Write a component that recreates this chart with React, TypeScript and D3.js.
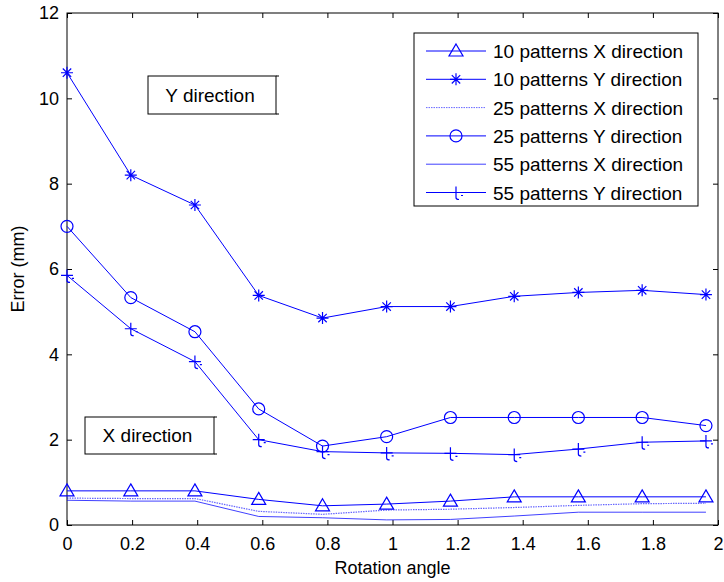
import React, { useEffect, useRef } from 'react'
import * as d3 from 'd3'

// rotation angles (rad), k * pi/16
const angles = [0, 0.196, 0.393, 0.589, 0.785, 0.982, 1.178, 1.374, 1.571, 1.767, 1.963]

const tenX = [0.8, 0.8, 0.8, 0.6, 0.45, 0.49, 0.56, 0.66, 0.66, 0.66, 0.66]
const tenY = [10.6, 8.2, 7.5, 5.38, 4.85, 5.12, 5.12, 5.36, 5.45, 5.5, 5.4]
const twentyFiveX = [0.63, 0.62, 0.62, 0.32, 0.25, 0.35, 0.37, 0.41, 0.46, 0.5, 0.51]
const twentyFiveY = [7.0, 5.33, 4.53, 2.72, 1.85, 2.07, 2.52, 2.52, 2.52, 2.52, 2.33]
const fiftyFiveX = [0.58, 0.56, 0.56, 0.2, 0.17, 0.12, 0.13, 0.21, 0.3, 0.3, 0.3]
const fiftyFiveY = [5.85, 4.6, 3.83, 2.0, 1.72, 1.69, 1.68, 1.65, 1.78, 1.94, 1.97]

const seriesNames = [
  '10 patterns X direction',
  '10 patterns Y direction',
  '25 patterns X direction',
  '25 patterns Y direction',
  '55 patterns X direction',
  '55 patterns Y direction',
]
const seriesValues = [tenX, tenY, twentyFiveX, twentyFiveY, fiftyFiveX, fiftyFiveY]
const seriesMarkers = ['triangle', 'asterisk', 'none', 'circle', 'none', 'plus']

const xTicks = [0, 0.2, 0.4, 0.6, 0.8, 1, 1.2, 1.4, 1.6, 1.8, 2]
const yTicks = [0, 2, 4, 6, 8, 10, 12]

const BLUE = '#0000ff'
const FONT = '"Liberation Sans", Arial, Helvetica, sans-serif'

const drawMarker = (g: any, kind: string, x: number, y: number) => {
  if (kind === 'triangle') {
    g.append('path')
      .attr('d', `M${x},${y - 7}L${x + 7},${y + 5}L${x - 7},${y + 5}Z`)
      .attr('fill', 'none').attr('stroke', BLUE).attr('stroke-width', 1.2)
  } else if (kind === 'circle') {
    g.append('circle').attr('cx', x).attr('cy', y).attr('r', 6)
      .attr('fill', 'none').attr('stroke', BLUE).attr('stroke-width', 1.2)
  } else if (kind === 'asterisk') {
    const r = 6
    const d = r * 0.7
    g.append('path')
      .attr('d', `M${x - r},${y}H${x + r}M${x},${y - r}V${y + r}M${x - d},${y - d}L${x + d},${y + d}M${x - d},${y + d}L${x + d},${y - d}`)
      .attr('stroke', BLUE).attr('stroke-width', 1.2).attr('fill', 'none')
  } else if (kind === 'plus') {
    g.append('path')
      .attr('d', `M${x - 6},${y}H${x + 6}M${x},${y - 6}V${y + 5}Q${x},${y + 7} ${x + 3},${y + 7}M${x + 5},${y + 3}H${x + 7}`)
      .attr('stroke', BLUE).attr('stroke-width', 1.2).attr('fill', 'none')
  }
}

const App = () => {
  const svgRef = useRef<SVGSVGElement>(null)

  useEffect(() => {
    const width = 724
    const height = 582
    const left = 67, right = 718, top = 13, bottom = 525

    const svg = d3.select(svgRef.current)
    svg.selectAll('*').remove()
    svg.attr('width', width).attr('height', height)

    svg.append('rect').attr('width', width).attr('height', height).attr('fill', '#fff')

    const xScale = d3.scaleLinear().domain([0, 2]).range([left, right])
    const yScale = d3.scaleLinear().domain([0, 12]).range([bottom, top])

    const fmt = (d: any) => String(d)

    // axes, ticks inside like MATLAB
    const axB = svg.append('g').attr('transform', `translate(0,${bottom})`)
      .call(d3.axisBottom(xScale).tickValues(xTicks).tickFormat(fmt).tickSizeInner(-5).tickSizeOuter(0).tickPadding(12))
    const axT = svg.append('g').attr('transform', `translate(0,${top})`)
      .call(d3.axisTop(xScale).tickValues(xTicks).tickFormat(() => '').tickSizeInner(-5).tickSizeOuter(0))
    const axL = svg.append('g').attr('transform', `translate(${left},0)`)
      .call(d3.axisLeft(yScale).tickValues(yTicks).tickFormat(fmt).tickSizeInner(-5).tickSizeOuter(0).tickPadding(8))
    const axR = svg.append('g').attr('transform', `translate(${right},0)`)
      .call(d3.axisRight(yScale).tickValues(yTicks).tickFormat(() => '').tickSizeInner(-5).tickSizeOuter(0))

    ;[axB, axT, axL, axR].forEach(ax => {
      ax.select('.domain').remove()
      ax.selectAll('line').attr('stroke', '#000')
      ax.selectAll('text').attr('font-family', FONT).attr('font-size', 18).attr('fill', '#000')
    })

    svg.append('rect')
      .attr('x', left).attr('y', top)
      .attr('width', right - left).attr('height', bottom - top)
      .attr('fill', 'none').attr('stroke', '#000').attr('stroke-width', 1)

    const plot = svg.append('g')

    seriesValues.forEach((vals, i) => {
      const line = d3.line<number>()
        .x((_, j) => xScale(angles[j]))
        .y(d => yScale(d))
      const path = plot.append('path')
        .attr('d', line(vals))
        .attr('fill', 'none')
        .attr('stroke', BLUE)
      if (i === 2) {
        path.attr('stroke-width', 1.2).attr('stroke-dasharray', '1.5,1').attr('stroke-opacity', 0.6)
      } else if (i === 4) {
        path.attr('stroke-width', 1).attr('stroke-opacity', 0.75)
      } else {
        path.attr('stroke-width', 1)
      }
      vals.forEach((v, j) => drawMarker(plot, seriesMarkers[i], xScale(angles[j]), yScale(v)))
    })

    // text annotations
    const note = (x: number, y: number, w: number, h: number, label: string) => {
      const g = svg.append('g')
      g.append('rect').attr('x', x).attr('y', y).attr('width', w).attr('height', h)
        .attr('fill', '#fff').attr('stroke', '#000').attr('stroke-width', 1)
      g.append('path')
        .attr('d', `M${x + w},${y}h3M${x + w},${y + h}h3`)
        .attr('stroke', '#000').attr('stroke-width', 1)
      g.append('text').attr('x', x + w / 2 - 2).attr('y', y + h / 2 + 6.5)
        .attr('text-anchor', 'middle').attr('font-family', FONT).attr('font-size', 19)
        .text(label)
    }
    note(148, 76, 128, 38, 'Y direction')
    note(85, 417, 129, 37, 'X direction')

    // legend
    const lg = svg.append('g')
    lg.append('rect').attr('x', 414).attr('y', 33).attr('width', 284).attr('height', 173)
      .attr('fill', '#fff').attr('stroke', '#000').attr('stroke-width', 1)
    seriesNames.forEach((name, i) => {
      const y = 51 + i * 28.3
      const ln = lg.append('line').attr('x1', 426).attr('x2', 486).attr('y1', y).attr('y2', y)
        .attr('stroke', BLUE).attr('stroke-width', 1)
      if (i === 2) ln.attr('stroke-dasharray', '1.5,1').attr('stroke-opacity', 0.6)
      if (i === 4) ln.attr('stroke-opacity', 0.75)
      drawMarker(lg, seriesMarkers[i], 456, y)
      lg.append('text').attr('x', 493).attr('y', y + 7)
        .attr('font-family', FONT).attr('font-size', 19).text(name)
    })

    // axis titles
    svg.append('text').attr('x', (left + right) / 2).attr('y', 574)
      .attr('text-anchor', 'middle').attr('font-family', FONT).attr('font-size', 18)
      .text('Rotation angle')
    svg.append('text')
      .attr('transform', `translate(24,${(top + bottom) / 2}) rotate(-90)`)
      .attr('text-anchor', 'middle').attr('font-family', FONT).attr('font-size', 18)
      .text('Error (mm)')
  }, [])

  return (
    <div style={{ position: 'absolute', left: 0, top: 0 }}>
      <svg ref={svgRef}></svg>
    </div>
  )
}

export default App
